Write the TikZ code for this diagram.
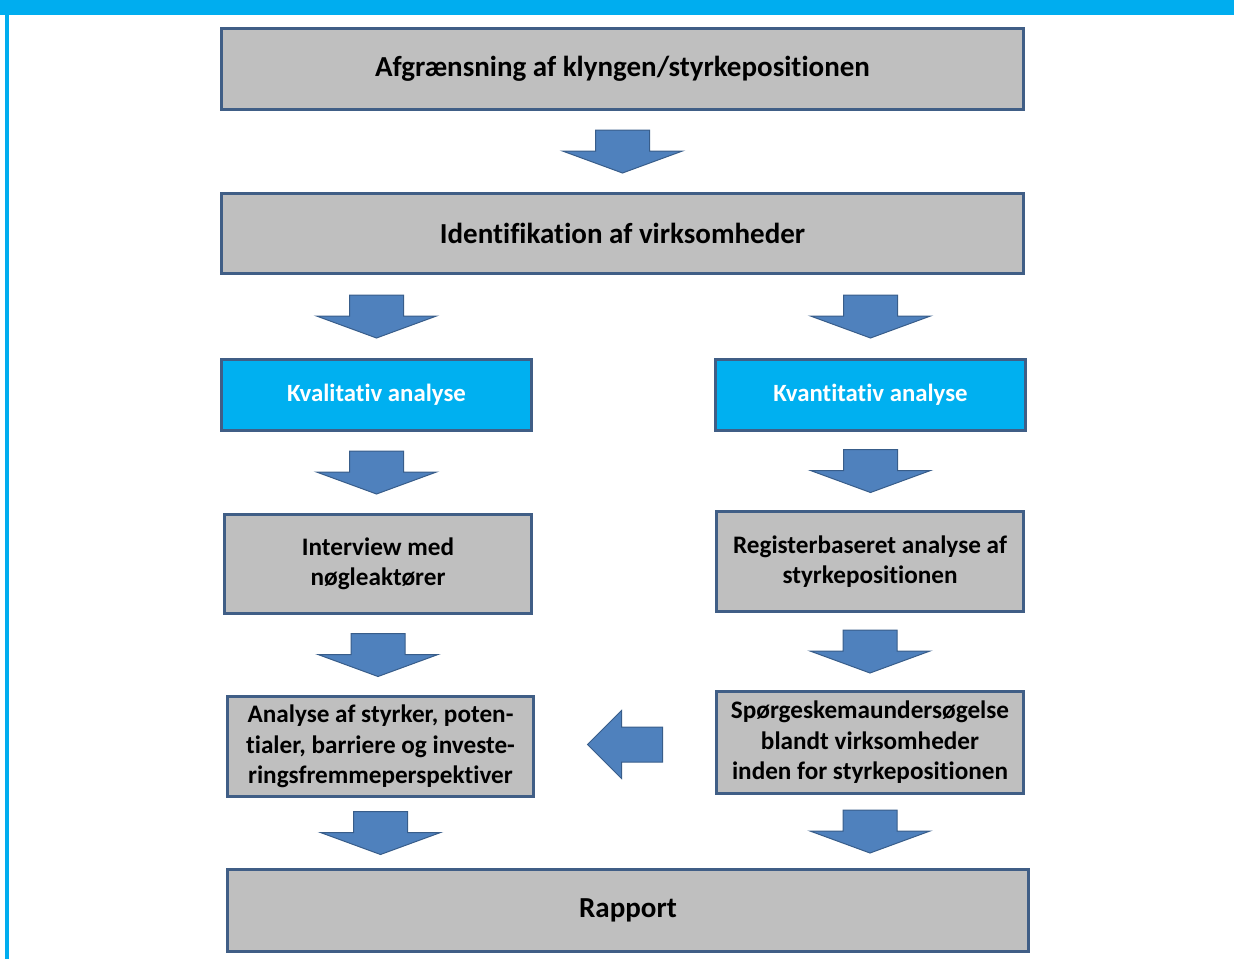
\documentclass[tikz,border=0pt]{standalone}
\usepackage{fontspec}
\setmainfont{Carlito}[Ligatures={NoCommon}]
\usetikzlibrary{calc}

\definecolor{frameblue}{RGB}{0,173,239}
\definecolor{boxgray}{RGB}{191,191,191}
\definecolor{boxedge}{RGB}{64,94,134}
\definecolor{cyanbox}{RGB}{0,176,240}
\definecolor{arrowfill}{RGB}{79,129,189}
\definecolor{arrowedge}{RGB}{56,93,138}

\tikzset{
  stage/.style={draw=boxedge, line width=3pt, fill=boxgray, align=center,
    font=\bfseries\fontsize{25.2}{30.5}\selectfont, inner sep=4pt},
  bigstage/.style={stage, font=\bfseries\fontsize{29}{34}\selectfont},
  method/.style={draw=boxedge, line width=3pt, fill=cyanbox, text=white,
    align=center, font=\bfseries\fontsize{24.8}{30}\selectfont},
  blockarrow/.style={fill=arrowfill, draw=arrowedge, line width=1pt, line join=miter},
  downarr/.pic={
    \path[blockarrow] (-27,-21.5) -- (27,-21.5) -- (27,-0.5) -- (60,-0.5)
      -- (0,21.5) -- (-60,-0.5) -- (-27,-0.5) -- cycle;
  },
  leftarr/.pic={
    \path[blockarrow] (37.5,-17.5) -- (37.5,17.5) -- (-3.5,17.5) -- (-3.5,34)
      -- (-37.5,0) -- (-3.5,-34) -- (-3.5,-17.5) -- cycle;
  }
}

\begin{document}
\begin{tikzpicture}[x=1pt, y=-1pt]
  \useasboundingbox (0,0) rectangle (1234,959);
  % frame: top band and left strip
  \fill[frameblue] (0,0) rectangle (1234,15);
  \fill[frameblue] (5,0) rectangle (9,959);

  % stages
  \node[bigstage, minimum width=802pt, minimum height=81pt] (scope) at (622.5,69)
    {Afgrænsning af klyngen/styrkepositionen};
  \node[bigstage, minimum width=802pt, minimum height=80pt] (ident) at (622.5,233.5)
    {Identifikation af virksomheder};

  \node[method, minimum width=310pt, minimum height=71pt] (qual) at (376.5,395)
    {Kvalitativ analyse};
  \node[method, minimum width=310pt, minimum height=71pt] (quant) at (870.5,395)
    {Kvantitativ analyse};

  \node[stage, minimum width=307pt, minimum height=99pt] (interview) at (378,564)
    {Interview med\\nøgleaktører};
  \node[stage, minimum width=307pt, minimum height=100pt] (register) at (870,561.5)
    {Registerbaseret analyse af\\styrkepositionen};

  \node[stage, minimum width=306pt, minimum height=100pt] (analysis) at (380.5,746.5)
    {Analyse af styrker, poten-\\tialer, barriere og investe-\\ringsfremmeperspektiver};
  \node[stage, minimum width=307pt, minimum height=102pt] (survey) at (870,742.5)
    {Spørgeskemaundersøgelse\\blandt virksomheder\\inden for styrkepositionen};

  \node[bigstage, minimum width=801pt, minimum height=82pt] (report) at (628,910.5)
    {Rapport};

  % block arrows between stages
  \pic at ($(scope.south)!0.5!(ident.north)$) {downarr};
  \pic at ($(qual.north|-ident.south)!0.5!(qual.north)$) {downarr};
  \pic at ($(quant.north|-ident.south)!0.5!(quant.north)$) {downarr};
  \pic at ($(qual.south)!0.5!(qual.south|-interview.north)$) {downarr};
  \pic at ($(quant.south)!0.5!(quant.south|-register.north)$) {downarr};
  \pic at ($(interview.south)!0.5!(interview.south|-analysis.north)$) {downarr};
  \pic at ($(register.south)!0.5!(register.south|-survey.north)$) {downarr};
  \pic at ($(analysis.south)!0.5!(analysis.south|-report.north)$) {downarr};
  \pic at ($(survey.south)!0.5!(survey.south|-report.north)$) {downarr};
  \pic at ($(analysis.east)!0.5!(survey.west)$) {leftarr};
\end{tikzpicture}
\end{document}
